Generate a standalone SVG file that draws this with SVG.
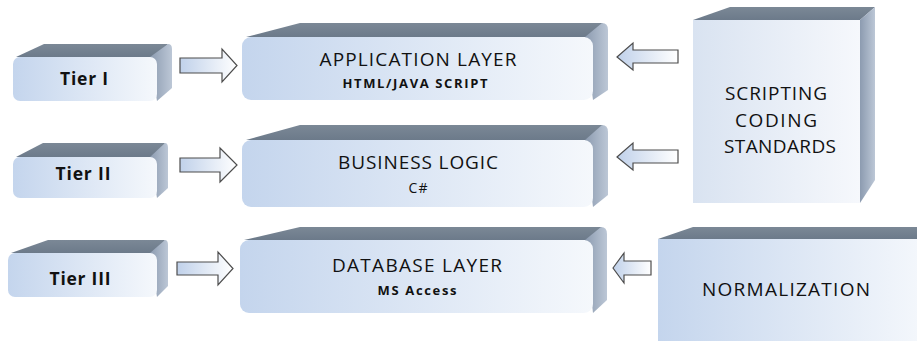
<svg xmlns="http://www.w3.org/2000/svg" width="917" height="341" viewBox="0 0 917 341">
<defs>
<linearGradient id="front" x1="0" y1="0" x2="1" y2="0"><stop offset="0" stop-color="#c4d5ed"/><stop offset="1" stop-color="#f5f8fc"/></linearGradient>
<linearGradient id="frontLight" x1="0" y1="0" x2="1" y2="0"><stop offset="0" stop-color="#d9e3f1"/><stop offset="1" stop-color="#f6f8fc"/></linearGradient>
<linearGradient id="side" x1="0" y1="0" x2="1" y2="0"><stop offset="0" stop-color="#8c9bb0"/><stop offset="1" stop-color="#bcc7d6"/></linearGradient>
<linearGradient id="top" x1="0" y1="0" x2="0" y2="1"><stop offset="0" stop-color="#7b8896"/><stop offset="1" stop-color="#6c7a8a"/></linearGradient>
<linearGradient id="arrow" x1="0" y1="0" x2="1" y2="0"><stop offset="0" stop-color="#c0d1ea"/><stop offset="1" stop-color="#ffffff"/></linearGradient>
</defs>
<style>
.front{fill:url(#front)}
.frontL{fill:url(#frontLight)}
.side{fill:url(#side)}
.top{fill:url(#top)}
.arr{fill:url(#arrow);stroke:#4d4d4d;stroke-width:1.2;stroke-linejoin:miter}
text{font-family:"Open Sans",Lato,"Liberation Sans",sans-serif;fill:#111;text-anchor:middle}
.tier{font-size:17.5px;font-weight:700}
.big{font-size:19px;font-weight:500}
.small{font-size:13px;font-weight:700}
.reg{font-size:14px;font-weight:500}
</style>

<g id="tier1">
<polygon class="top" points="16,57 44,44 168,44 157,57"/>
<path class="side" d="M150,57 L168,44 Q172,44 172,49 L172,88 L157,101 Z"/>
<rect class="front" x="13" y="57" width="144" height="44" rx="7"/>
<text class="tier" x="84" y="85" textLength="48" lengthAdjust="spacing">Tier I</text>
</g>
<g id="tier2">
<polygon class="top" points="16,157 43,143 165,143 157,157"/>
<path class="side" d="M150,157 L165,143 Q168,143 168,148 L168,188 L157,198 Z"/>
<rect class="front" x="13" y="157" width="144" height="41" rx="7"/>
<text class="tier" x="83" y="180" textLength="55" lengthAdjust="spacing">Tier II</text>
</g>
<g id="tier3">
<polygon class="top" points="11,253 48,240 165,240 157,253"/>
<path class="side" d="M150,253 L165,240 Q168,240 168,245 L168,286 L157,297 Z"/>
<rect class="front" x="8" y="253" width="149" height="44" rx="7"/>
<text class="tier" x="80" y="285" textLength="61" lengthAdjust="spacing">Tier III</text>
</g>

<g id="app">
<polygon class="top" points="246,37 300,23 603,23 593,37"/>
<path class="side" d="M585,37 L602,23 Q608,23 608,30 L608,90 L593,100 Z"/>
<rect class="front" x="242" y="37" width="351" height="63" rx="9"/>
<text class="big" x="418" y="66" textLength="197" lengthAdjust="spacing">APPLICATION LAYER</text>
<text class="small" x="415" y="88" textLength="145" lengthAdjust="spacing">HTML/JAVA SCRIPT</text>
</g>
<g id="business">
<polygon class="top" points="246,140 300,125 603,125 593,140"/>
<path class="side" d="M585,140 L602,125 Q608,125 608,132 L608,195 L593,207 Z"/>
<rect class="front" x="242" y="140" width="351" height="67" rx="9"/>
<text class="big" x="418" y="169" textLength="160" lengthAdjust="spacing">BUSINESS LOGIC</text>
<text class="reg" x="418" y="193" textLength="19" lengthAdjust="spacing">C#</text>
</g>
<g id="database">
<polygon class="top" points="244,240 300,227 602,227 593,240"/>
<path class="side" d="M585,240 L601,227 Q607,227 607,234 L607,300 L593,313 Z"/>
<rect class="front" x="240" y="240" width="353" height="73" rx="9"/>
<text class="big" x="417" y="272" textLength="170" lengthAdjust="spacing">DATABASE LAYER</text>
<text class="small" x="417" y="295" textLength="79" lengthAdjust="spacing">MS Access</text>
</g>

<g id="scripting">
<polygon class="top" points="693,20 730,7 875,7 860,20"/>
<polygon class="side" points="860,20 875,7 875,180 860,203"/>
<rect class="frontL" x="693" y="20" width="167" height="183"/>
<text class="big" x="776" y="100" textLength="102" lengthAdjust="spacing">SCRIPTING</text>
<text class="big" x="776" y="127" textLength="82" lengthAdjust="spacing">CODING</text>
<text class="big" x="780" y="153" textLength="112" lengthAdjust="spacing">STANDARDS</text>
</g>
<g id="normalization">
<polygon class="top" points="658,239 693,227 930,227 930,239"/>
<rect class="front" x="658" y="239" width="270" height="110"/>
<text class="big" x="786" y="296" textLength="168" lengthAdjust="spacing">NORMALIZATION</text>
</g>

<g id="connectors">
<polygon class="arr" points="180,58 222,58 222,49 237,65.5 222,82 222,73 180,73"/>
<polygon class="arr" points="180,158 220,158 220,148 237,165 220,182 220,172 180,172"/>
<polygon class="arr" points="177,262 218,262 218,252 233,268.5 218,285 218,275 177,275"/>
<polygon class="arr" points="617,57 633,43 633,50 678,50 678,63 633,63 633,70"/>
<polygon class="arr" points="617,157 633,143 633,150 678,150 678,163 633,163 633,170"/>
<polygon class="arr" points="613,268 624,253 624,261 651,261 651,275 624,275 624,283"/>
</g>
</svg>
